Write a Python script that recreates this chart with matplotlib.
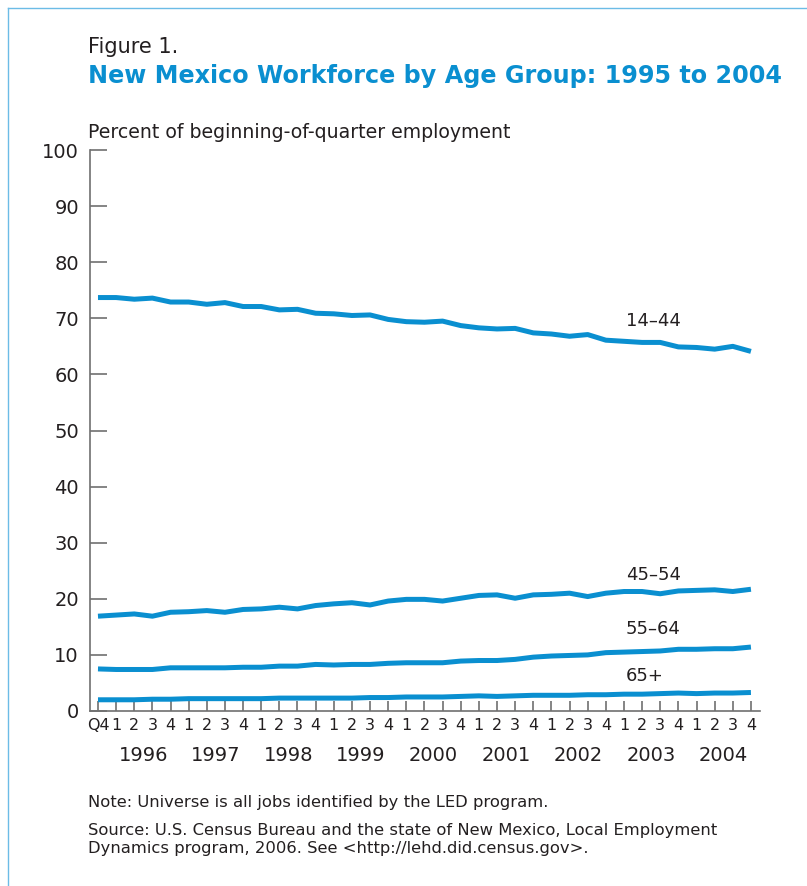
"""New Mexico workforce by age group, 1995 Q4 to 2004 Q4."""

import matplotlib
matplotlib.use("Agg")
import matplotlib.pyplot as plt
from matplotlib.lines import Line2D

# quarter labels along the x axis (Q4 1995, then 1..4 for 1996-2004)
quarters = ["Q4"] + ["1", "2", "3", "4"] * 9
years = ["1996", "1997", "1998", "1999", "2000", "2001", "2002", "2003", "2004"]

# percent of beginning-of-quarter employment
age_14_44 = [73.7, 73.7, 73.4, 73.6, 72.9, 72.9, 72.5, 72.8, 72.1, 72.1,
             71.5, 71.6, 70.9, 70.8, 70.5, 70.6, 69.8, 69.4, 69.3, 69.5,
             68.7, 68.3, 68.1, 68.2, 67.4, 67.2, 66.8, 67.1, 66.1, 65.9,
             65.7, 65.7, 64.9, 64.8, 64.5, 65.0, 64.1]
age_45_54 = [16.9, 17.1, 17.3, 16.9, 17.6, 17.7, 17.9, 17.6, 18.1, 18.2,
             18.5, 18.2, 18.8, 19.1, 19.3, 18.9, 19.6, 19.9, 19.9, 19.6,
             20.1, 20.6, 20.7, 20.1, 20.7, 20.8, 21.0, 20.4, 21.0, 21.3,
             21.3, 20.9, 21.4, 21.5, 21.6, 21.3, 21.7]
age_55_64 = [7.5, 7.4, 7.4, 7.4, 7.7, 7.7, 7.7, 7.7, 7.8, 7.8,
             8.0, 8.0, 8.3, 8.2, 8.3, 8.3, 8.5, 8.6, 8.6, 8.6,
             8.9, 9.0, 9.0, 9.2, 9.6, 9.8, 9.9, 10.0, 10.4, 10.5,
             10.6, 10.7, 11.0, 11.0, 11.1, 11.1, 11.4]
age_65_up = [2.0, 2.0, 2.0, 2.1, 2.1, 2.2, 2.2, 2.2, 2.2, 2.2,
             2.3, 2.3, 2.3, 2.3, 2.3, 2.4, 2.4, 2.5, 2.5, 2.5,
             2.6, 2.7, 2.6, 2.7, 2.8, 2.8, 2.8, 2.9, 2.9, 3.0,
             3.0, 3.1, 3.2, 3.1, 3.2, 3.2, 3.3]
series_names = ["14\u201344", "45\u201354", "55\u201364", "65+"]

BLUE = "#0a8fd0"
TEXT = "#231f20"
GREY = "#707070"


def main():
    plt.rcParams["font.family"] = ["DejaVu Sans"]
    fig = plt.figure(figsize=(8.07, 8.86), dpi=100)
    ax = fig.add_axes([90 / 807, 1 - 711 / 886, 670 / 807, 561 / 886])

    x = list(range(len(quarters)))
    series = [age_14_44, age_45_54, age_55_64, age_65_up]
    for vals in series:
        ax.plot(x, vals, color=BLUE, lw=3.6, solid_capstyle="butt")

    # series labels sit above the right-hand part of each line
    label_y = [age_14_44[29] + 3.6, age_45_54[29] + 3.0,
               age_55_64[29] + 4.2, age_65_up[29] + 3.2]
    for name, y in zip(series_names, label_y):
        ax.text(29.1, y, name, fontsize=13, color=TEXT, va="center", ha="left")

    ax.set_xlim(-0.44, 36.5)
    ax.set_ylim(0, 100)
    ax.set_yticks(range(0, 101, 10))
    ax.set_xticks(x)
    ax.set_xticklabels(quarters)
    ax.tick_params(axis="y", direction="in", length=12, width=1.2, color=GREY,
                   labelsize=14, labelcolor=TEXT, pad=8)
    ax.tick_params(axis="x", direction="in", length=7, width=1.2, color=GREY,
                   labelsize=11.5, labelcolor=TEXT, pad=5)
    for side in ("top", "right"):
        ax.spines[side].set_visible(False)
    for side in ("left", "bottom"):
        ax.spines[side].set_color(GREY)
        ax.spines[side].set_linewidth(1.2)

    for i, yr in enumerate(years):
        ax.text(4 * i + 2.5, -7.9, yr, fontsize=14, color=TEXT,
                ha="center", va="center", clip_on=False)

    fig.text(88 / 807, 1 - 47 / 886, "Figure 1.", fontsize=15, color=TEXT,
             va="center", ha="left")
    fig.text(88 / 807, 1 - 76 / 886,
             "New Mexico Workforce by Age Group: 1995 to 2004",
             fontsize=17.2, color=BLUE, fontweight="bold", va="center", ha="left")
    fig.text(88 / 807, 1 - 133 / 886,
             "Percent of beginning-of-quarter employment",
             fontsize=13.6, color=TEXT, va="center", ha="left")
    notes = [
        (803, "Note: Universe is all jobs identified by the LED program."),
        (830, "Source: U.S. Census Bureau and the state of New Mexico, Local Employment"),
        (849, "Dynamics program, 2006. See <http://lehd.did.census.gov>."),
    ]
    for ypx, line in notes:
        fig.text(88 / 807, 1 - ypx / 886, line, fontsize=11.8, color=TEXT,
                 va="center", ha="left")

    # light blue frame, open on the right and bottom
    border = dict(color="#6cbce6", lw=1.0, transform=fig.transFigure)
    fig.add_artist(Line2D([8 / 807, 1.0], [1 - 8 / 886, 1 - 8 / 886], **border))
    fig.add_artist(Line2D([8 / 807, 8 / 807], [0.0, 1 - 8 / 886], **border))

    fig.savefig("out.png", dpi=100)


if __name__ == "__main__":
    main()
